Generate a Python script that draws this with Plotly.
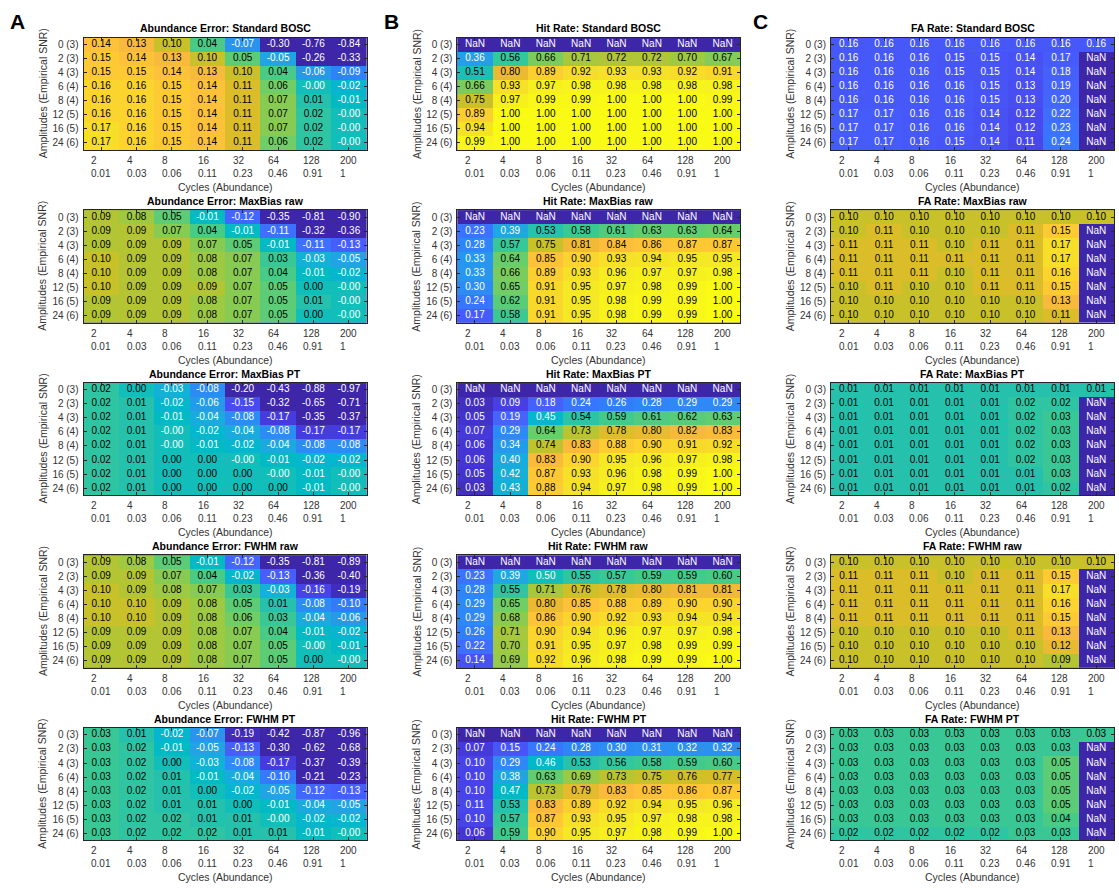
import numpy as np
import plotly.graph_objects as go

nan = float("nan")

# ---------------- data ----------------
amplitudes = ["0 (3)", "2 (3)", "4 (3)", "6 (4)", "8 (4)", "12 (5)", "16 (5)", "24 (6)"]
cycles = [2, 4, 8, 16, 32, 64, 128, 200]
abundance = [0.01, 0.03, 0.06, 0.11, 0.23, 0.46, 0.91, 1]

abn_standard = [
    [0.14, 0.13, 0.10, 0.04, -0.07, -0.30, -0.76, -0.84],
    [0.15, 0.14, 0.13, 0.10, 0.05, -0.05, -0.26, -0.33],
    [0.15, 0.15, 0.14, 0.13, 0.10, 0.04, -0.06, -0.09],
    [0.16, 0.16, 0.15, 0.14, 0.11, 0.06, -0.0, -0.02],
    [0.16, 0.16, 0.15, 0.14, 0.11, 0.07, 0.01, -0.01],
    [0.16, 0.16, 0.15, 0.14, 0.11, 0.07, 0.02, -0.0],
    [0.17, 0.16, 0.15, 0.14, 0.11, 0.07, 0.02, -0.0],
    [0.17, 0.16, 0.15, 0.14, 0.11, 0.06, 0.02, -0.0],
]
abn_maxbias_raw = [
    [0.09, 0.08, 0.05, -0.01, -0.12, -0.35, -0.81, -0.90],
    [0.09, 0.09, 0.07, 0.04, -0.01, -0.11, -0.32, -0.36],
    [0.09, 0.09, 0.09, 0.07, 0.05, -0.01, -0.11, -0.13],
    [0.10, 0.09, 0.09, 0.08, 0.07, 0.03, -0.03, -0.05],
    [0.10, 0.09, 0.09, 0.08, 0.07, 0.04, -0.01, -0.02],
    [0.10, 0.09, 0.09, 0.09, 0.07, 0.05, 0.0, -0.0],
    [0.09, 0.09, 0.09, 0.08, 0.07, 0.05, 0.01, -0.0],
    [0.09, 0.09, 0.09, 0.08, 0.07, 0.05, 0.0, -0.0],
]
abn_maxbias_pt = [
    [0.02, 0.0, -0.03, -0.08, -0.20, -0.43, -0.88, -0.97],
    [0.02, 0.01, -0.02, -0.06, -0.15, -0.32, -0.65, -0.71],
    [0.02, 0.01, -0.01, -0.04, -0.08, -0.17, -0.35, -0.37],
    [0.02, 0.01, -0.0, -0.02, -0.04, -0.08, -0.17, -0.17],
    [0.02, 0.01, -0.0, -0.01, -0.02, -0.04, -0.08, -0.08],
    [0.02, 0.01, 0.0, 0.0, -0.0, -0.01, -0.02, -0.02],
    [0.02, 0.01, 0.0, 0.0, 0.0, -0.0, -0.01, -0.0],
    [0.02, 0.01, 0.0, 0.0, 0.0, 0.0, -0.01, -0.0],
]
abn_fwhm_raw = [
    [0.09, 0.08, 0.05, -0.01, -0.12, -0.35, -0.81, -0.89],
    [0.09, 0.09, 0.07, 0.04, -0.02, -0.13, -0.36, -0.40],
    [0.10, 0.09, 0.08, 0.07, 0.03, -0.03, -0.16, -0.19],
    [0.10, 0.10, 0.09, 0.08, 0.05, 0.01, -0.08, -0.10],
    [0.10, 0.10, 0.09, 0.08, 0.06, 0.03, -0.04, -0.06],
    [0.09, 0.09, 0.09, 0.08, 0.07, 0.04, -0.01, -0.02],
    [0.09, 0.09, 0.09, 0.08, 0.07, 0.05, -0.0, -0.01],
    [0.09, 0.09, 0.09, 0.08, 0.07, 0.05, 0.0, -0.0],
]
abn_fwhm_pt = [
    [0.03, 0.01, -0.02, -0.07, -0.19, -0.42, -0.87, -0.96],
    [0.03, 0.02, -0.01, -0.05, -0.13, -0.30, -0.62, -0.68],
    [0.03, 0.02, 0.0, -0.03, -0.08, -0.17, -0.37, -0.39],
    [0.03, 0.02, 0.01, -0.01, -0.04, -0.10, -0.21, -0.23],
    [0.03, 0.02, 0.01, 0.0, -0.02, -0.05, -0.12, -0.13],
    [0.03, 0.02, 0.01, 0.01, 0.0, -0.01, -0.04, -0.05],
    [0.03, 0.02, 0.02, 0.01, 0.01, -0.0, -0.02, -0.02],
    [0.03, 0.02, 0.02, 0.02, 0.01, 0.01, -0.01, -0.0],
]

hit_standard = [
    [nan, nan, nan, nan, nan, nan, nan, nan],
    [0.36, 0.56, 0.66, 0.71, 0.72, 0.72, 0.70, 0.67],
    [0.51, 0.80, 0.89, 0.92, 0.93, 0.93, 0.92, 0.91],
    [0.66, 0.93, 0.97, 0.98, 0.98, 0.98, 0.98, 0.98],
    [0.75, 0.97, 0.99, 0.99, 1.00, 1.00, 1.00, 0.99],
    [0.89, 1.00, 1.00, 1.00, 1.00, 1.00, 1.00, 1.00],
    [0.94, 1.00, 1.00, 1.00, 1.00, 1.00, 1.00, 1.00],
    [0.99, 1.00, 1.00, 1.00, 1.00, 1.00, 1.00, 1.00],
]
hit_maxbias_raw = [
    [nan, nan, nan, nan, nan, nan, nan, nan],
    [0.23, 0.39, 0.53, 0.58, 0.61, 0.63, 0.63, 0.64],
    [0.28, 0.57, 0.75, 0.81, 0.84, 0.86, 0.87, 0.87],
    [0.33, 0.64, 0.85, 0.90, 0.93, 0.94, 0.95, 0.95],
    [0.33, 0.66, 0.89, 0.93, 0.96, 0.97, 0.97, 0.98],
    [0.30, 0.65, 0.91, 0.95, 0.97, 0.98, 0.99, 1.00],
    [0.24, 0.62, 0.91, 0.95, 0.98, 0.99, 0.99, 1.00],
    [0.17, 0.58, 0.91, 0.95, 0.98, 0.99, 0.99, 1.00],
]
hit_maxbias_pt = [
    [nan, nan, nan, nan, nan, nan, nan, nan],
    [0.03, 0.09, 0.18, 0.24, 0.26, 0.28, 0.29, 0.29],
    [0.05, 0.19, 0.45, 0.54, 0.59, 0.61, 0.62, 0.63],
    [0.07, 0.29, 0.64, 0.73, 0.78, 0.80, 0.82, 0.83],
    [0.06, 0.34, 0.74, 0.83, 0.88, 0.90, 0.91, 0.92],
    [0.06, 0.40, 0.83, 0.90, 0.95, 0.96, 0.97, 0.98],
    [0.05, 0.42, 0.87, 0.93, 0.96, 0.98, 0.99, 1.00],
    [0.03, 0.43, 0.88, 0.94, 0.97, 0.98, 0.99, 1.00],
]
hit_fwhm_raw = [
    [nan, nan, nan, nan, nan, nan, nan, nan],
    [0.23, 0.39, 0.50, 0.55, 0.57, 0.59, 0.59, 0.60],
    [0.28, 0.55, 0.71, 0.76, 0.78, 0.80, 0.81, 0.81],
    [0.29, 0.65, 0.80, 0.85, 0.88, 0.89, 0.90, 0.90],
    [0.29, 0.68, 0.86, 0.90, 0.92, 0.93, 0.94, 0.94],
    [0.26, 0.71, 0.90, 0.94, 0.96, 0.97, 0.97, 0.98],
    [0.22, 0.70, 0.91, 0.95, 0.97, 0.98, 0.99, 0.99],
    [0.14, 0.69, 0.92, 0.96, 0.98, 0.99, 0.99, 1.00],
]
hit_fwhm_pt = [
    [nan, nan, nan, nan, nan, nan, nan, nan],
    [0.07, 0.15, 0.24, 0.28, 0.30, 0.31, 0.32, 0.32],
    [0.10, 0.29, 0.46, 0.53, 0.56, 0.58, 0.59, 0.60],
    [0.10, 0.38, 0.63, 0.69, 0.73, 0.75, 0.76, 0.77],
    [0.10, 0.47, 0.73, 0.79, 0.83, 0.85, 0.86, 0.87],
    [0.11, 0.53, 0.83, 0.89, 0.92, 0.94, 0.95, 0.96],
    [0.10, 0.57, 0.87, 0.93, 0.95, 0.97, 0.98, 0.98],
    [0.06, 0.59, 0.90, 0.95, 0.97, 0.98, 0.99, 1.00],
]

fa_standard = [
    [0.16, 0.16, 0.16, 0.16, 0.16, 0.16, 0.16, 0.16],
    [0.16, 0.16, 0.16, 0.15, 0.15, 0.14, 0.17, nan],
    [0.16, 0.16, 0.16, 0.15, 0.15, 0.14, 0.18, nan],
    [0.16, 0.16, 0.16, 0.16, 0.15, 0.13, 0.19, nan],
    [0.16, 0.16, 0.16, 0.16, 0.15, 0.13, 0.20, nan],
    [0.17, 0.17, 0.16, 0.16, 0.14, 0.12, 0.22, nan],
    [0.17, 0.17, 0.16, 0.16, 0.14, 0.12, 0.23, nan],
    [0.17, 0.17, 0.16, 0.15, 0.14, 0.11, 0.24, nan],
]
fa_maxbias_raw = [
    [0.10, 0.10, 0.10, 0.10, 0.10, 0.10, 0.10, 0.10],
    [0.10, 0.11, 0.10, 0.10, 0.10, 0.11, 0.15, nan],
    [0.11, 0.11, 0.11, 0.10, 0.11, 0.11, 0.17, nan],
    [0.11, 0.11, 0.11, 0.11, 0.11, 0.11, 0.17, nan],
    [0.11, 0.11, 0.11, 0.10, 0.11, 0.11, 0.16, nan],
    [0.10, 0.11, 0.10, 0.10, 0.11, 0.11, 0.15, nan],
    [0.10, 0.10, 0.10, 0.10, 0.10, 0.10, 0.13, nan],
    [0.10, 0.10, 0.10, 0.10, 0.10, 0.10, 0.11, nan],
]
fa_maxbias_pt = [
    [0.01, 0.01, 0.01, 0.01, 0.01, 0.01, 0.01, 0.01],
    [0.01, 0.01, 0.01, 0.01, 0.01, 0.02, 0.02, nan],
    [0.01, 0.01, 0.01, 0.01, 0.01, 0.02, 0.03, nan],
    [0.01, 0.01, 0.01, 0.01, 0.01, 0.02, 0.03, nan],
    [0.01, 0.01, 0.01, 0.01, 0.01, 0.02, 0.03, nan],
    [0.01, 0.01, 0.01, 0.01, 0.01, 0.02, 0.03, nan],
    [0.01, 0.01, 0.01, 0.01, 0.01, 0.01, 0.03, nan],
    [0.01, 0.01, 0.01, 0.01, 0.01, 0.01, 0.02, nan],
]
fa_fwhm_raw = [
    [0.10, 0.10, 0.10, 0.10, 0.10, 0.10, 0.10, 0.10],
    [0.11, 0.11, 0.11, 0.10, 0.11, 0.11, 0.15, nan],
    [0.11, 0.11, 0.11, 0.11, 0.11, 0.11, 0.17, nan],
    [0.11, 0.11, 0.11, 0.11, 0.11, 0.11, 0.16, nan],
    [0.11, 0.11, 0.11, 0.11, 0.11, 0.11, 0.15, nan],
    [0.10, 0.10, 0.10, 0.10, 0.10, 0.11, 0.13, nan],
    [0.10, 0.10, 0.10, 0.10, 0.10, 0.10, 0.12, nan],
    [0.10, 0.10, 0.10, 0.10, 0.10, 0.10, 0.09, nan],
]
fa_fwhm_pt = [
    [0.03, 0.03, 0.03, 0.03, 0.03, 0.03, 0.03, 0.03],
    [0.03, 0.03, 0.03, 0.03, 0.03, 0.03, 0.03, nan],
    [0.03, 0.03, 0.03, 0.03, 0.03, 0.03, 0.05, nan],
    [0.03, 0.03, 0.03, 0.03, 0.03, 0.03, 0.05, nan],
    [0.03, 0.03, 0.03, 0.03, 0.03, 0.03, 0.05, nan],
    [0.03, 0.03, 0.03, 0.03, 0.03, 0.03, 0.05, nan],
    [0.03, 0.03, 0.03, 0.03, 0.03, 0.03, 0.04, nan],
    [0.02, 0.02, 0.02, 0.02, 0.02, 0.03, 0.03, nan],
]

panel_letters = ["A", "B", "C"]
method_names = ["Standard BOSC", "MaxBias raw", "MaxBias PT", "FWHM raw", "FWHM PT"]
measure_names = ["Abundance Error", "Hit Rate", "FA Rate"]
panels = [
    [abn_standard, abn_maxbias_raw, abn_maxbias_pt, abn_fwhm_raw, abn_fwhm_pt],
    [hit_standard, hit_maxbias_raw, hit_maxbias_pt, hit_fwhm_raw, hit_fwhm_pt],
    [fa_standard, fa_maxbias_raw, fa_maxbias_pt, fa_fwhm_raw, fa_fwhm_pt],
]
# colour limits (style) per column / panel
clims = [
    [(-0.2, 0.2)] * 5,
    [(0.0, 1.0)] * 5,
    [(0.0, 1.0)] + [(-0.2, 0.2)] * 4,
]

# ---------------- parula colormap ----------------
PARULA = [
    (0.2422, 0.1504, 0.6603), (0.2504, 0.1650, 0.7076), (0.2578, 0.1818, 0.7511), (0.2647, 0.1978, 0.7952),
    (0.2706, 0.2147, 0.8364), (0.2751, 0.2342, 0.8710), (0.2783, 0.2559, 0.8991), (0.2803, 0.2782, 0.9221),
    (0.2813, 0.3006, 0.9414), (0.2810, 0.3228, 0.9579), (0.2795, 0.3447, 0.9717), (0.2760, 0.3667, 0.9829),
    (0.2699, 0.3892, 0.9906), (0.2602, 0.4123, 0.9952), (0.2440, 0.4358, 0.9988), (0.2206, 0.4603, 0.9973),
    (0.1963, 0.4847, 0.9892), (0.1834, 0.5074, 0.9798), (0.1786, 0.5289, 0.9682), (0.1764, 0.5499, 0.9520),
    (0.1687, 0.5703, 0.9359), (0.1540, 0.5902, 0.9218), (0.1460, 0.6091, 0.9079), (0.1380, 0.6276, 0.8973),
    (0.1248, 0.6459, 0.8883), (0.1113, 0.6635, 0.8763), (0.0952, 0.6798, 0.8598), (0.0689, 0.6948, 0.8394),
    (0.0297, 0.7082, 0.8163), (0.0036, 0.7203, 0.7917), (0.0067, 0.7312, 0.7660), (0.0433, 0.7411, 0.7394),
    (0.0964, 0.7500, 0.7120), (0.1408, 0.7584, 0.6842), (0.1717, 0.7670, 0.6554), (0.1938, 0.7758, 0.6251),
    (0.2161, 0.7843, 0.5923), (0.2470, 0.7918, 0.5567), (0.2906, 0.7973, 0.5188), (0.3406, 0.8008, 0.4789),
    (0.3909, 0.8029, 0.4354), (0.4456, 0.8024, 0.3909), (0.5044, 0.7993, 0.3480), (0.5616, 0.7942, 0.3045),
    (0.6174, 0.7876, 0.2612), (0.6720, 0.7793, 0.2227), (0.7242, 0.7698, 0.1910), (0.7738, 0.7598, 0.1646),
    (0.8203, 0.7498, 0.1535), (0.8634, 0.7406, 0.1596), (0.9035, 0.7330, 0.1774), (0.9393, 0.7288, 0.2100),
    (0.9728, 0.7298, 0.2394), (0.9956, 0.7434, 0.2371), (0.9970, 0.7659, 0.2199), (0.9952, 0.7893, 0.2028),
    (0.9892, 0.8136, 0.1885), (0.9786, 0.8386, 0.1766), (0.9676, 0.8639, 0.1643), (0.9610, 0.8890, 0.1537),
    (0.9597, 0.9135, 0.1423), (0.9628, 0.9373, 0.1265), (0.9691, 0.9606, 0.1064), (0.9769, 0.9839, 0.0805),
]
n_c = len(PARULA)
colorscale = [[i / (n_c - 1), "rgb(%d,%d,%d)" % tuple(round(c * 255) for c in rgb)] for i, rgb in enumerate(PARULA)]
nan_color = colorscale[0][1]

# ---------------- layout geometry ----------------
W, H = 1119, 888
col_left = [83.5, 457.3, 831.0]
panel_w = 283.0
row_top = [37.5, 210.1, 382.7, 555.3, 727.9]
panel_h = 112.5

FONT = "Arial, Liberation Sans, Helvetica, sans-serif"
LABEL_COLOR = "#333333"
AX_COLOR = "#262626"

fig = go.Figure()
layout = dict(
    width=W, height=H,
    margin=dict(l=0, r=0, t=0, b=0),
    paper_bgcolor="white",
    plot_bgcolor=nan_color,
    showlegend=False,
    font=dict(family=FONT, size=10, color=LABEL_COLOR),
)
annotations = []

xi = list(range(len(cycles)))
yi = list(range(len(amplitudes)))

for c in range(3):
    for r in range(5):
        n = r * 3 + c + 1
        sfx = "" if n == 1 else str(n)
        data = np.array(panels[c][r], dtype=float)
        zmin, zmax = clims[c][r]
        zc = [[None if np.isnan(v) else v for v in row] for row in data]
        fig.add_trace(go.Heatmap(
            z=zc, x=xi, y=yi, colorscale=colorscale, zmin=zmin, zmax=zmax,
            showscale=False, hoverinfo="skip", xaxis="x" + sfx, yaxis="y" + sfx,
        ))
        tx, ty, tt, tcol = [], [], [], []
        for i in yi:
            for j in xi:
                v = data[i, j]
                tx.append(j)
                ty.append(i)
                if np.isnan(v):
                    tt.append("NaN")
                    tcol.append("white")
                else:
                    tt.append(f"{v:.2f}")
                    norm = (v - zmin) / (zmax - zmin)
                    dark = norm < 0.5 or (norm == 0.5 and (v != 0 or np.signbit(v)))
                    tcol.append("white" if dark else "black")
        fig.add_trace(go.Scatter(
            x=tx, y=ty, text=tt, mode="text", textposition="middle center",
            textfont=dict(family=FONT, size=10, color=tcol),
            hoverinfo="skip", xaxis="x" + sfx, yaxis="y" + sfx,
        ))

        x0 = col_left[c] / W
        x1 = (col_left[c] + panel_w) / W
        y1 = 1 - row_top[r] / H
        y0 = 1 - (row_top[r] + panel_h) / H
        common = dict(
            showgrid=False, zeroline=False, showline=True, linecolor=AX_COLOR, linewidth=1,
            mirror="ticks", ticks="inside", ticklen=3, tickwidth=1, tickcolor=AX_COLOR,
            fixedrange=True,
        )
        layout["xaxis" + sfx] = dict(
            domain=[x0, x1], anchor="y" + sfx, range=[-0.5, len(cycles) - 0.5],
            tickvals=xi, showticklabels=False, **common,
        )
        layout["yaxis" + sfx] = dict(
            domain=[y0, y1], anchor="x" + sfx, range=[len(amplitudes) - 0.5, -0.5],
            tickvals=yi, ticktext=amplitudes, tickfont=dict(family=FONT, size=10, color=LABEL_COLOR),
            ticklabelstandoff=2, **common,
        )
        xd, yd = "x" + sfx + " domain", "y" + sfx + " domain"
        # title
        annotations.append(dict(
            text=f"<b>{measure_names[c]}: {method_names[r]}</b>", xref=xd, yref=yd,
            x=0.5, y=1, xanchor="center", yanchor="bottom", yshift=1, showarrow=False,
            font=dict(family=FONT, size=10.5, color="black"),
        ))
        # two-line x tick labels (cycles / abundance), left aligned
        for j in xi:
            annotations.append(dict(
                text=f"{cycles[j]}<br>{abundance[j]:g}", xref="x" + sfx, yref=yd,
                x=j, y=0, xanchor="center", yanchor="top", yshift=-3, align="left",
                showarrow=False, font=dict(family=FONT, size=10, color=LABEL_COLOR),
            ))
        # axis titles
        annotations.append(dict(
            text="Cycles (Abundance)", xref=xd, yref=yd, x=0.5, y=0,
            xanchor="center", yanchor="middle", yshift=-37, showarrow=False,
            font=dict(family=FONT, size=10.5, color=LABEL_COLOR),
        ))
        annotations.append(dict(
            text="Amplitudes (Empirical SNR)", xref=xd, yref=yd, x=0, y=0.5,
            xanchor="center", yanchor="middle", xshift=-41, textangle=-90, showarrow=False,
            font=dict(family=FONT, size=10.5, color=LABEL_COLOR),
        ))

letter_x = [17, 391, 760]
for c, letter in enumerate(panel_letters):
    annotations.append(dict(
        text=f"<b>{letter}</b>", xref="paper", yref="paper", x=letter_x[c] / W, y=1 - 22 / H,
        xanchor="center", yanchor="middle", showarrow=False,
        font=dict(family=FONT, size=21, color="black"),
    ))

layout["annotations"] = annotations
fig.update_layout(**layout)
fig.write_html(
    "out.html",
    config={"displayModeBar": False},
    post_script="document.body.style.margin='0px';document.body.style.overflow='hidden';",
)
